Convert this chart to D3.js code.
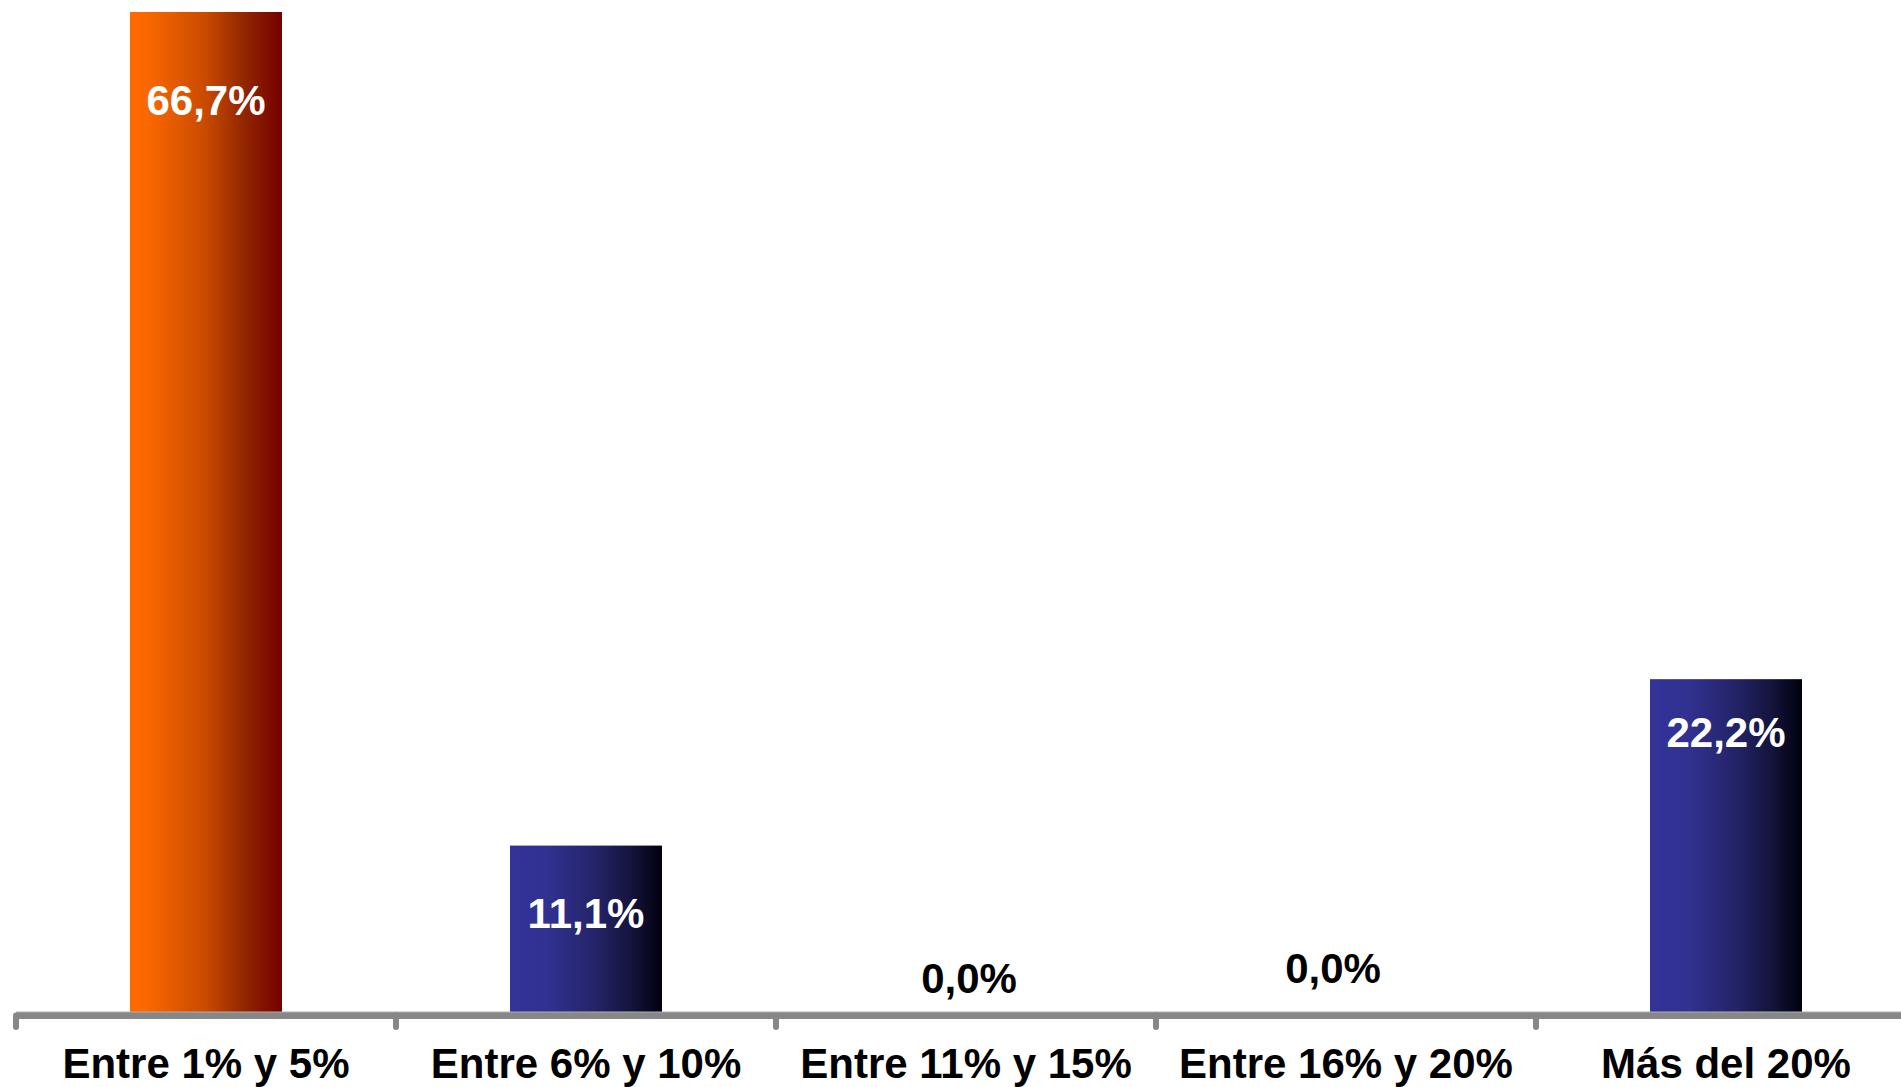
<!DOCTYPE html>
<html>
<head>
<meta charset="utf-8">
<script src="https://cdn.jsdelivr.net/npm/d3@7"></script>
<style>
  html, body { margin: 0; padding: 0; background: #fff; }
  svg { display: block; }
</style>
</head>
<body>
<div id="chart"></div>
<script>
// data
const categories = ["Entre 1% y 5%", "Entre 6% y 10%", "Entre 11% y 15%", "Entre 16% y 20%", "Más del 20%"];
const values = [66.7, 11.1, 0.0, 0.0, 22.2];
const labels = ["66,7%", "11,1%", "0,0%", "0,0%", "22,2%"];
const highlight = [true, false, false, false, false];

// layout: label baseline offset from bar top (positive = inside bar), and horizontal shift
const labelNudge = [103, 82, -19, -29, 68];
const labelShiftX = [0, 0, 3, -13, 0];

const width = 1901;
const height = 1087;
const baseY = 1012;
const topY = 12;

const x = d3.scaleBand()
  .domain(categories)
  .range([16, 16 + 380 * 5])
  .paddingInner(0.6)
  .paddingOuter(0.3);

const y = d3.scaleLinear()
  .domain([0, 66.7])
  .range([baseY, topY]);

const svg = d3.select("#chart").append("svg")
  .attr("width", width)
  .attr("height", height);

// gradients
const defs = svg.append("defs");
const orange = defs.append("linearGradient").attr("id", "gOrange")
  .attr("x1", "0%").attr("x2", "100%").attr("y1", "0%").attr("y2", "0%");
[[0, "#ff6a00"], [0.12, "#fa6700"], [0.5, "#c84a00"], [0.75, "#922600"], [1, "#740000"]]
  .forEach(([o, c]) => orange.append("stop").attr("offset", o).attr("stop-color", c));
const blue = defs.append("linearGradient").attr("id", "gBlue")
  .attr("x1", "0%").attr("x2", "100%").attr("y1", "0%").attr("y2", "0%");
[[0, "#333399"], [0.25, "#313191"], [0.55, "#24246a"], [0.8, "#14143c"], [1, "#00000e"]]
  .forEach(([o, c]) => blue.append("stop").attr("offset", o).attr("stop-color", c));

// bars
svg.append("g")
  .selectAll("rect")
  .data(categories)
  .join("rect")
  .attr("x", d => x(d))
  .attr("width", x.bandwidth())
  .attr("y", (d, i) => y(values[i]))
  .attr("height", (d, i) => y(0) - y(values[i]))
  .attr("fill", (d, i) => highlight[i] ? "url(#gOrange)" : "url(#gBlue)");

// axis line
const gap = (x.step() - x.bandwidth()) / 2;
const axisY = baseY + 3.5;
svg.append("line")
  .attr("x1", x(categories[0]) - gap)
  .attr("x2", width)
  .attr("y1", axisY).attr("y2", axisY)
  .attr("stroke", "#878787")
  .attr("stroke-width", 7);
svg.append("line")
  .attr("x1", x(categories[0]) - gap)
  .attr("x2", width)
  .attr("y1", baseY).attr("y2", baseY)
  .attr("stroke", "#b0b0b0")
  .attr("stroke-width", 1);

// tick marks at category boundaries
svg.append("g")
  .selectAll("line")
  .data(categories)
  .join("line")
  .attr("x1", d => x(d) - gap)
  .attr("x2", d => x(d) - gap)
  .attr("y1", axisY)
  .attr("y2", 1027)
  .attr("stroke", "#878787")
  .attr("stroke-width", 6)
  .attr("stroke-linecap", "round");

// category labels
svg.append("g")
  .selectAll("text")
  .data(categories)
  .join("text")
  .attr("x", d => x(d) + x.bandwidth() / 2)
  .attr("y", 1078)
  .attr("text-anchor", "middle")
  .style("font-family", "'Liberation Sans', Arial, sans-serif")
  .style("font-weight", "bold")
  .style("font-size", "42px")
  .attr("fill", "#000")
  .text(d => d);

// value labels
svg.append("g")
  .selectAll("text")
  .data(categories)
  .join("text")
  .attr("x", (d, i) => x(d) + x.bandwidth() / 2 + labelShiftX[i])
  .attr("y", (d, i) => y(values[i]) + labelNudge[i])
  .attr("text-anchor", "middle")
  .style("font-family", "'Liberation Sans', Arial, sans-serif")
  .style("font-weight", "bold")
  .style("font-size", "42px")
  .attr("fill", (d, i) => values[i] > 0 ? "#fff" : "#000")
  .text((d, i) => labels[i]);
</script>
</body>
</html>
